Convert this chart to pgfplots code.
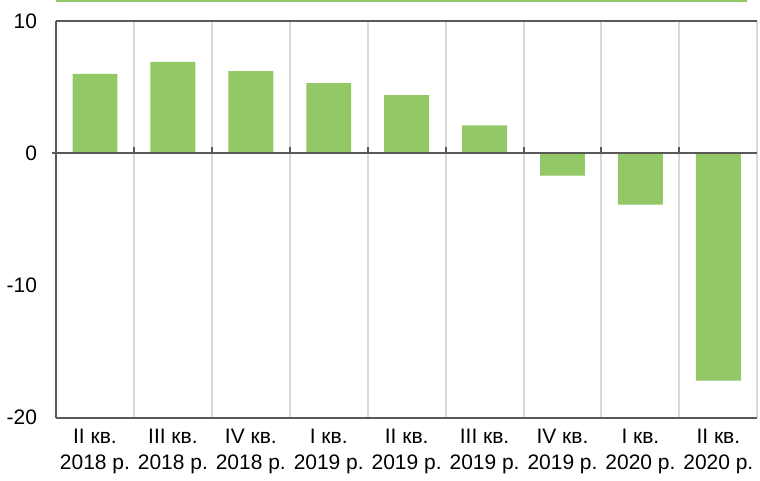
\documentclass[border=0pt]{standalone}
\usepackage{pgfplots}
\pgfplotsset{compat=1.18}
\usepackage{fontspec}
\setmainfont{Liberation Sans}
\definecolor{barg}{HTML}{92C865}
\definecolor{axg}{HTML}{595959}
\definecolor{gridg}{HTML}{D9D9D9}
\begin{document}
\begin{tikzpicture}
\begin{axis}[
  scale only axis,
  width=351pt, height=198.5pt,
  xmin=-0.5, xmax=8.5,
  ymin=-20, ymax=10,
  axis line style={draw=none},
  ytick={-20,-10,0,10},
  yticklabel style={font=\fontsize{10.5}{12}\selectfont, xshift=-6pt},
  /pgf/number format/assume math mode=true,
  xtick={0,...,8},
  xticklabels={{II кв.\\2018 р.},{III кв.\\2018 р.},{IV кв.\\2018 р.},{I кв.\\2019 р.},{II кв.\\2019 р.},{III кв.\\2019 р.},{IV кв.\\2019 р.},{I кв.\\2020 р.},{II кв.\\2020 р.}},
  xticklabel style={font=\fontsize{10.5}{13}\selectfont, align=center, yshift=-2pt},
  major tick length=0pt,
  ybar, bar width=22.5pt,
  clip=false,
]
% vertical separators
\foreach \x in {0.5,1.5,...,8.5} {
  \edef\tmp{\noexpand\draw[gridg, line width=1pt] (axis cs:\x,-20) -- (axis cs:\x,10);}
  \tmp
}
\addplot[fill=barg, draw=none] coordinates {
  (0,6.0) (1,6.9) (2,6.2) (3,5.3) (4,4.4) (5,2.1) (6,-1.7) (7,-3.9) (8,-17.2)
};
% axis frame
\draw[axg, line width=1pt] (axis cs:-0.5,10) -- (axis cs:8.5,10);
\draw[axg, line width=1pt] (axis cs:-0.5,-20) -- (axis cs:8.5,-20);
\draw[axg, line width=1pt] (axis cs:-0.5,0) -- (axis cs:8.5,0);
\draw[axg, line width=1pt] (axis cs:-0.5,-20) -- (axis cs:-0.5,10);
\foreach \x in {0.5,1.5,...,7.5} {
  \edef\tmp{\noexpand\draw[axg, line width=1pt] (axis cs:\x,0) -- ([yshift=3pt]axis cs:\x,0);}
  \tmp
}
\draw[axg, line width=1pt] (axis cs:-0.5,0) -- ([xshift=-2pt]axis cs:-0.5,0);
% green top rule
\draw[barg, line width=1pt] ([yshift=10pt]axis cs:-0.5,10) -- ([yshift=10pt,xshift=-5pt]axis cs:8.5,10);
\end{axis}
\end{tikzpicture}
\end{document}
